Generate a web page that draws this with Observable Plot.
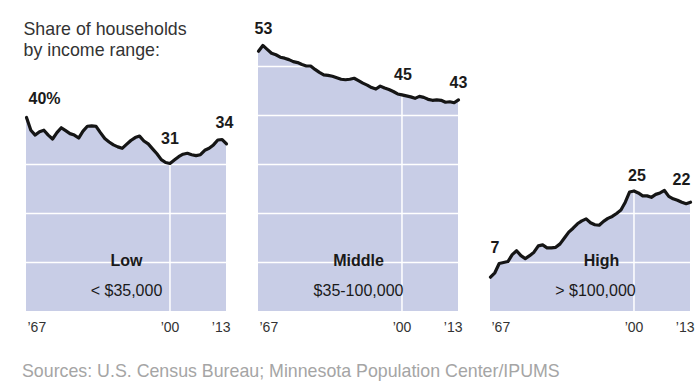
<!DOCTYPE html>
<html>
<head>
<meta charset="utf-8">
<script src="https://cdn.jsdelivr.net/npm/d3@7"></script>
<script src="https://cdn.jsdelivr.net/npm/@observablehq/plot@0.6"></script>
<style>
  html, body { margin: 0; padding: 0; background: #fff; }
  #chart svg { display: block; }
</style>
</head>
<body>
<div id="chart"></div>
<script>
// ---- data ----
const years = d3.range(1967, 2014);
const lowValues = [39.6,37.0,36.0,36.7,37.0,36.0,35.2,36.5,37.5,36.9,36.3,36.0,35.4,36.8,37.8,37.9,37.8,36.5,35.3,34.6,34.0,33.6,33.3,34.1,34.9,35.5,35.8,34.8,34.2,33.2,32.2,31.0,30.4,30.2,30.9,31.6,32.1,32.3,32.0,31.8,32.0,32.9,33.3,34.0,35.0,35.1,34.2];
const middleValues = [53.1,54.3,53.5,52.7,52.4,51.9,51.7,51.4,51.0,50.8,50.4,50.1,50.1,49.4,48.8,48.3,48.2,48.0,47.7,47.4,47.3,47.4,47.6,47.1,46.6,46.2,45.7,45.4,46.0,45.6,45.3,44.9,44.4,44.2,44.0,43.8,43.5,43.9,43.7,43.3,43.1,43.2,43.1,42.7,42.8,42.6,43.2];
const highValues = [7.0,7.9,9.8,10.0,10.2,11.6,12.4,11.4,10.8,11.4,12.1,13.4,13.6,13.0,13.0,13.1,13.8,15.0,16.2,17.0,17.9,18.5,18.9,18.1,17.7,17.6,18.4,19.0,19.4,20.0,20.7,22.3,24.4,24.6,24.2,23.6,23.6,23.3,23.9,24.2,24.7,23.5,23.0,22.7,22.3,22.0,22.3];
const panels = ["Low", "Middle", "High"];
const panelRanges = ["< $35,000", "$35-100,000", "> $100,000"];
const calloutPanels = ["Low","Low","Low","Middle","Middle","Middle","High","High","High"];
const calloutYears  = [1967, 2000, 2013, 1967, 2000, 2013, 1967, 2000, 2013];
const calloutTexts  = ["40%","31","34","53","45","43","7","25","22"];
const tickYears = [1967, 2000, 2013];
const tickLabels = ["\u201967", "\u201900", "\u201913"];
const gridValues = [10, 20, 30, 40, 50];
const titleText = "Share of households\nby income range:";
const sourceText = "Sources: U.S. Census Bureau; Minnesota Population Center/IPUMS";

// ---- build tables ----
const seriesByPanel = {Low: lowValues, Middle: middleValues, High: highValues};
const table = panels.flatMap(p => years.map((y, i) => ({panel: p, year: y, value: seriesByPanel[p][i]})));
const valueAt = (p, y) => seriesByPanel[p][years.indexOf(y)];
const callouts = calloutTexts.map((t, i) => ({panel: calloutPanels[i], year: calloutYears[i], text: t, value: valueAt(calloutPanels[i], calloutYears[i])}));
const panelLabels = panels.map((p, i) => ({panel: p, name: p, range: panelRanges[i]}));
const ticks = tickYears.map((y, i) => ({year: y, label: tickLabels[i]}));

// per-label nudges (styling)
const nudge = {
  "40%": {dx: 2, dy: -25, anchor: "start"},
  "31": {dx: 0, dy: -31, anchor: "middle"},
  "34": {dx: -2, dy: -27, anchor: "middle"},
  "53": {dx: 5, dy: -29, anchor: "middle"},
  "45": {dx: 1, dy: -26, anchor: "middle"},
  "43": {dx: 0, dy: -23, anchor: "middle"},
  "7": {dx: 0, dy: -36, anchor: "start"},
  "25": {dx: 3, dy: -21, anchor: "middle"},
  "22": {dx: -9, dy: -29, anchor: "middle"}
};
const nameDx = {Low: 0, Middle: 0, High: 11};
const rangeDx = {Low: 0, Middle: 0, High: 5};
const tickAnchor = {1967: "start", 2000: "middle", 2013: "end"};
const tickDx = {1967: 1, 2000: 0, 2013: 4};

const font = "'Liberation Sans', Arial, sans-serif";
const fill = "#c8cde6";

const marks = [
  Plot.areaY(table, {x: "year", y: "value", fx: "panel", fill, curve: "linear"}),
  Plot.ruleY(gridValues, {stroke: "white", strokeWidth: 1.5}),
  Plot.ruleX(table.filter(d => d.year === 2000), {x: "year", y1: 0, y2: "value", fx: "panel", stroke: "white", strokeWidth: 1.5}),
  Plot.lineY(table, {x: "year", y: "value", fx: "panel", stroke: "#151515", strokeWidth: 3.2, strokeLinejoin: "round", strokeLinecap: "round"}),
  // callouts
  ...callouts.map(c => Plot.text([c], {
    x: "year", y: "value", fx: "panel", text: "text",
    dx: nudge[c.text].dx, dy: nudge[c.text].dy, textAnchor: nudge[c.text].anchor, lineAnchor: "top",
    fontSize: 16, fontWeight: "bold", fill: "#1a1a1a", fontFamily: font
  })),
  // panel names
  ...panelLabels.map(p => Plot.text([p], {fx: "panel", text: "name", frameAnchor: "bottom", lineAnchor: "top", dx: nameDx[p.panel], dy: -56.5, fontSize: 16, fontWeight: "bold", fill: "#1a1a1a", fontFamily: font})),
  ...panelLabels.map(p => Plot.text([p], {fx: "panel", text: "range", frameAnchor: "bottom", lineAnchor: "top", dx: rangeDx[p.panel], dy: -26.5, fontSize: 16, fill: "#1a1a1a", fontFamily: font})),
  // tick labels
  ...ticks.map(t => Plot.text([t], {x: "year", text: "label", frameAnchor: "bottom", lineAnchor: "top", dy: 11, dx: tickDx[t.year], textAnchor: tickAnchor[t.year], fontSize: 14, fill: "#333", fontFamily: font})),
  // title and source
  Plot.text([{panel: "Low", t: titleText}], {fx: "panel", text: "t", frameAnchor: "top-left", textAnchor: "start", lineAnchor: "top", dx: -3, dy: 2, lineHeight: 1.2, fontSize: 17.8, fill: "#333", fontFamily: font}),
  Plot.text([{panel: "Low", t: sourceText}], {fx: "panel", text: "t", frameAnchor: "bottom-left", textAnchor: "start", lineAnchor: "top", dx: -4.5, dy: 53, fontSize: 17.8, fill: "#a5a5a5", fontFamily: font})
];

const chart = Plot.plot({
  width: 700,
  height: 389,
  marginLeft: 26,
  marginRight: 10,
  marginTop: 17,
  marginBottom: 78,
  style: {fontFamily: font, background: "white", overflow: "visible"},
  fx: {domain: panels, paddingInner: 0.138, paddingOuter: 0, axis: null, label: null},
  x: {domain: [1967, 2013], axis: null},
  y: {domain: [0, 60], axis: null},
  marks
});
document.getElementById("chart").appendChild(chart);
</script>
</body>
</html>
